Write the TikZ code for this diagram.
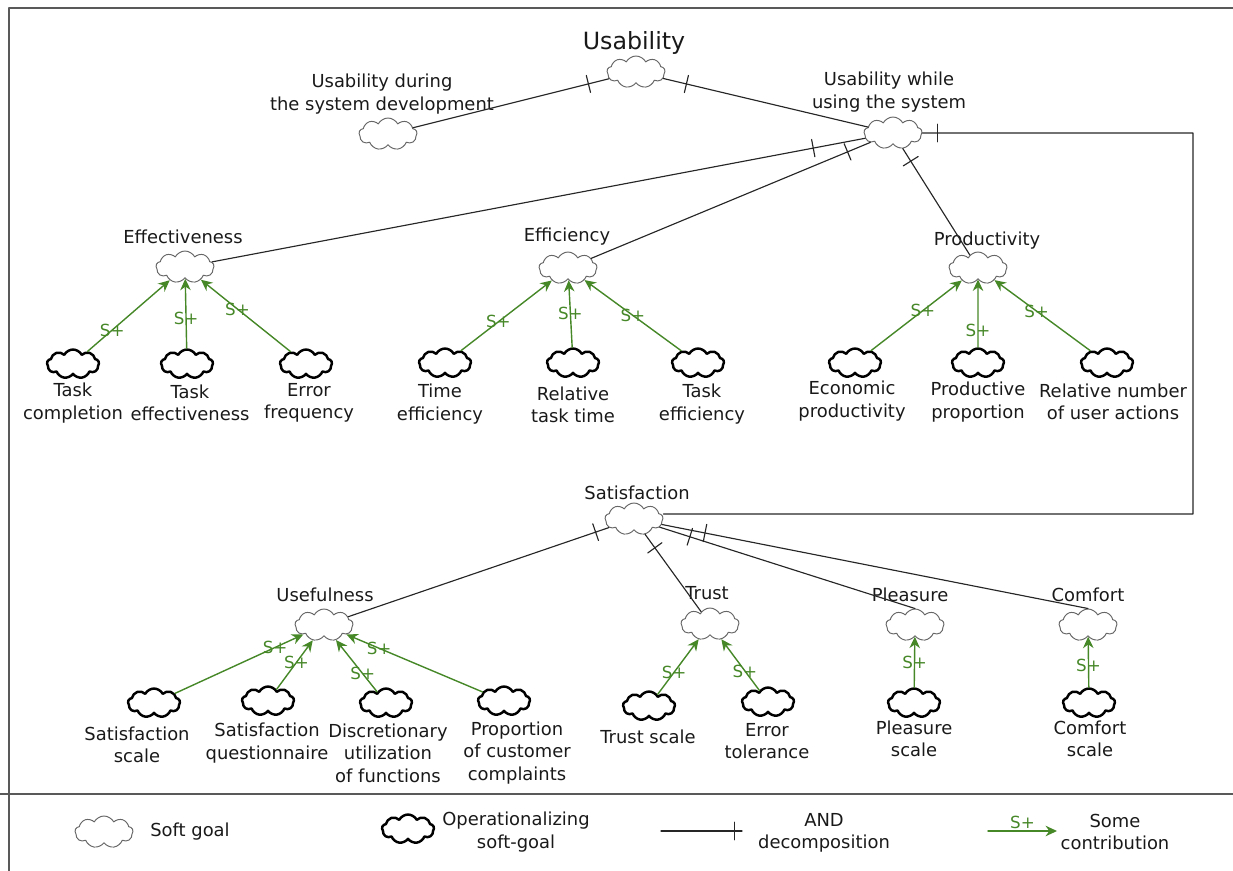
\documentclass[tikz,border=0pt]{standalone}
\usepackage{fontspec}
\setmainfont{DejaVu Sans}
\usetikzlibrary{shapes.symbols,arrows.meta,decorations.markings}
\definecolor{sgreen}{RGB}{70,135,40}

\begin{document}
\begin{tikzpicture}[x=0.02cm, y=-0.02cm, font=\fontsize{10.2}{12.8}\selectfont, line join=round, line cap=round,
	softgoal/.style={cloud, cloud puffs=9, cloud puff arc=125, cloud ignores aspect, minimum width=1.16cm, minimum height=0.64cm, inner sep=0pt, draw=black!60, line width=0.55pt},
	opgoal/.style={softgoal, draw=black, line width=1.4pt, minimum width=1.04cm, minimum height=0.58cm},
	txt/.style={align=center, inner sep=0pt, text=black!90},
	andlink/.style={draw=black!85, line width=0.65pt, postaction={decorate}, decoration={markings, mark=at position #1 with {\draw[line width=0.65pt] (0,-5pt) -- (0,5pt);}}},
	andlink/.default=12pt,
	contrib/.style={draw=sgreen, line width=0.8pt, -{Stealth[length=6.5pt,width=6pt]}},
	splbl/.style={text=sgreen, inner sep=0pt, font=\fontsize{9.5}{11}\selectfont}]
	\useasboundingbox (0,0) rectangle (1233,871);
	% frame
	\draw[black!65, line width=1.1pt] (9,871) -- (9,8) -- (1233,8);
	\draw[black!65, line width=1.1pt] (0,794) -- (1233,794);
	
	% soft goals
	\node[softgoal] (usab) at (636,72) {};
	\node[txt, font=\fontsize{13.5}{16}\selectfont] (usabT) at (634,43) {Usability};
	\node[softgoal] (dev) at (388,134) {};
	\node[txt] (devT) at (382,94) {Usability during\\the system development};
	\node[softgoal] (use) at (893,133) {};
	\node[txt] (useT) at (889,92) {Usability while\\using the system};
	\node[softgoal] (effect) at (185,267) {};
	\node[txt] (effectT) at (183,237) {Effectiveness};
	\node[softgoal] (effic) at (568,268) {};
	\node[txt] (efficT) at (567,237) {Efficiency};
	\node[softgoal] (prod) at (978,268) {};
	\node[txt] (prodT) at (987,241) {Productivity};
	\node[softgoal] (sat) at (634,519) {};
	\node[txt] (satT) at (637,493) {Satisfaction};
	\node[softgoal] (useful) at (324,625) {};
	\node[txt] (usefulT) at (325,595) {Usefulness};
	\node[softgoal] (trust) at (710,624) {};
	\node[txt] (trustT) at (707,593) {Trust};
	\node[softgoal] (pleas) at (915,625) {};
	\node[txt] (pleasT) at (910,595) {Pleasure};
	\node[softgoal] (comf) at (1088,625) {};
	\node[txt] (comfT) at (1088,595) {Comfort};
	
	% operationalizing soft goals
	\node[opgoal] (taskcomp) at (73,364) {};
	\node[txt] (taskcompT) at (73,403) {Task\\completion};
	\node[opgoal] (taskeff) at (187,364) {};
	\node[txt] (taskeffT) at (190,403) {Task\\effectiveness};
	\node[opgoal] (errfreq) at (306,364) {};
	\node[txt] (errfreqT) at (309,403) {Error\\frequency};
	\node[opgoal] (timeeff) at (445,363) {};
	\node[txt] (timeeffT) at (440,404) {Time\\efficiency};
	\node[opgoal] (reltime) at (573,363) {};
	\node[txt] (reltimeT) at (573,405) {Relative\\task time};
	\node[opgoal] (taskeffic) at (698,363) {};
	\node[txt] (taskefficT) at (702,404) {Task\\efficiency};
	\node[opgoal] (econ) at (855,363) {};
	\node[txt] (econT) at (852,401) {Economic\\productivity};
	\node[opgoal] (prodprop) at (978,363) {};
	\node[txt] (prodpropT) at (978,402) {Productive\\proportion};
	\node[opgoal] (relnum) at (1107,363) {};
	\node[txt] (relnumT) at (1113,402) {Relative number\\of user actions};
	\node[opgoal] (satscale) at (154,703) {};
	\node[txt] (satscaleT) at (137,745) {Satisfaction\\scale};
	\node[opgoal] (satquest) at (268,701) {};
	\node[txt] (satquestT) at (267,743) {Satisfaction\\questionnaire};
	\node[opgoal] (discr) at (386,703) {};
	\node[txt] (discrT) at (388,753) {Discretionary\\utilization\\of functions};
	\node[opgoal] (propc) at (504,701) {};
	\node[txt] (propcT) at (517,753) {Proportion\\of customer\\complaints};
	\node[opgoal] (trustsc) at (649,706) {};
	\node[txt] (trustscT) at (648,737) {Trust scale};
	\node[opgoal] (errtol) at (768,702) {};
	\node[txt] (errtolT) at (767,741) {Error\\tolerance};
	\node[opgoal] (pleassc) at (914,703) {};
	\node[txt] (pleasscT) at (914,739) {Pleasure\\scale};
	\node[opgoal] (comfsc) at (1089,703) {};
	\node[txt] (comfscT) at (1090,739) {Comfort\\scale};
	
	% AND decompositions
	\coordinate (turnA) at (1193,133);
	\coordinate (turnB) at (1193,514);
	\draw[andlink=12pt] (usab) -- (dev);
	\draw[andlink=13.5pt] (usab) -- (use);
	\draw[andlink=30pt] (use) -- (effect);
	\draw[andlink=14pt] (use) -- (effic);
	\draw[andlink=8.5pt] (use) -- (prod);
	\draw[andlink=8.5pt] (use) -- (turnA) -- (turnB) -- (turnB -| sat.east);
	\draw[andlink=8pt] (sat) -- (useful);
	\draw[andlink=9.5pt] (sat) -- (trust);
	\draw[andlink=18pt] (sat) -- (pleas.north);
	\draw[andlink=25pt] (sat) -- (comf.north);
	
	% contributions
	\draw[contrib] (taskcomp) -- node[splbl, pos=.3] (sp1) {S+} (effect);
	\draw[contrib] (taskeff) -- node[splbl, pos=.43] (sp2) {S+} (effect);
	\draw[contrib] (errfreq) -- node[splbl, pos=.59] (sp3) {S+} (effect);
	\draw[contrib] (timeeff) -- node[splbl, pos=.41] (sp4) {S+} (effic);
	\draw[contrib] (reltime) -- node[splbl, pos=.5] (sp5) {S+} (effic);
	\draw[contrib] (taskeffic) -- node[splbl, pos=.5] (sp6) {S+} (effic);
	\draw[contrib] (econ) -- node[splbl, pos=.57] (sp7) {S+} (prod);
	\draw[contrib] (prodprop) -- node[splbl, pos=.25] (sp8) {S+} (prod);
	\draw[contrib] (relnum) -- node[splbl, pos=.56] (sp9) {S+} (prod);
	\draw[contrib] (satscale) -- node[splbl, pos=.78] (sp10) {S+} (useful);
	\draw[contrib] (satquest) -- node[splbl, pos=.55] (sp11) {S+} (useful);
	\draw[contrib] (discr) -- node[splbl, pos=.35] (sp12) {S+} (useful);
	\draw[contrib] (propc) -- node[splbl, pos=.76] (sp13) {S+} (useful);
	\draw[contrib] (trustsc) -- node[splbl, pos=.4] (sp14) {S+} (trust);
	\draw[contrib] (errtol) -- node[splbl, pos=.38] (sp15) {S+} (trust);
	\draw[contrib] (pleassc) -- node[splbl, pos=.5] (sp16) {S+} (pleas);
	\draw[contrib] (comfsc) -- node[splbl, pos=.44] (sp17) {S+} (comf);
	
	% legend
	\node[softgoal] (lgSoft) at (104,832) {};
	\node[txt] (lgSoftT) at (190,832) {Soft goal};
	\node[opgoal] (lgOp) at (408,829) {};
	\node[txt] (lgOpT) at (516,832) {Operationalizing\\soft-goal};
	\coordinate (lgAndA) at (661,831);
	\coordinate (lgAndB) at (742,831);
	\draw[andlink=42pt] (lgAndA) -- (lgAndB);
	\node[txt] (lgAndT) at (824,833) {AND\\decomposition};
	\coordinate (lgConA) at (988,831);
	\coordinate (lgConB) at (1057,831);
	\draw[contrib] (lgConA) -- node[splbl, above=1pt] (lgSp) {S+} (lgConB);
	\node[txt] (lgConT) at (1115,832) {Some\\contribution};
\end{tikzpicture}
\end{document}
